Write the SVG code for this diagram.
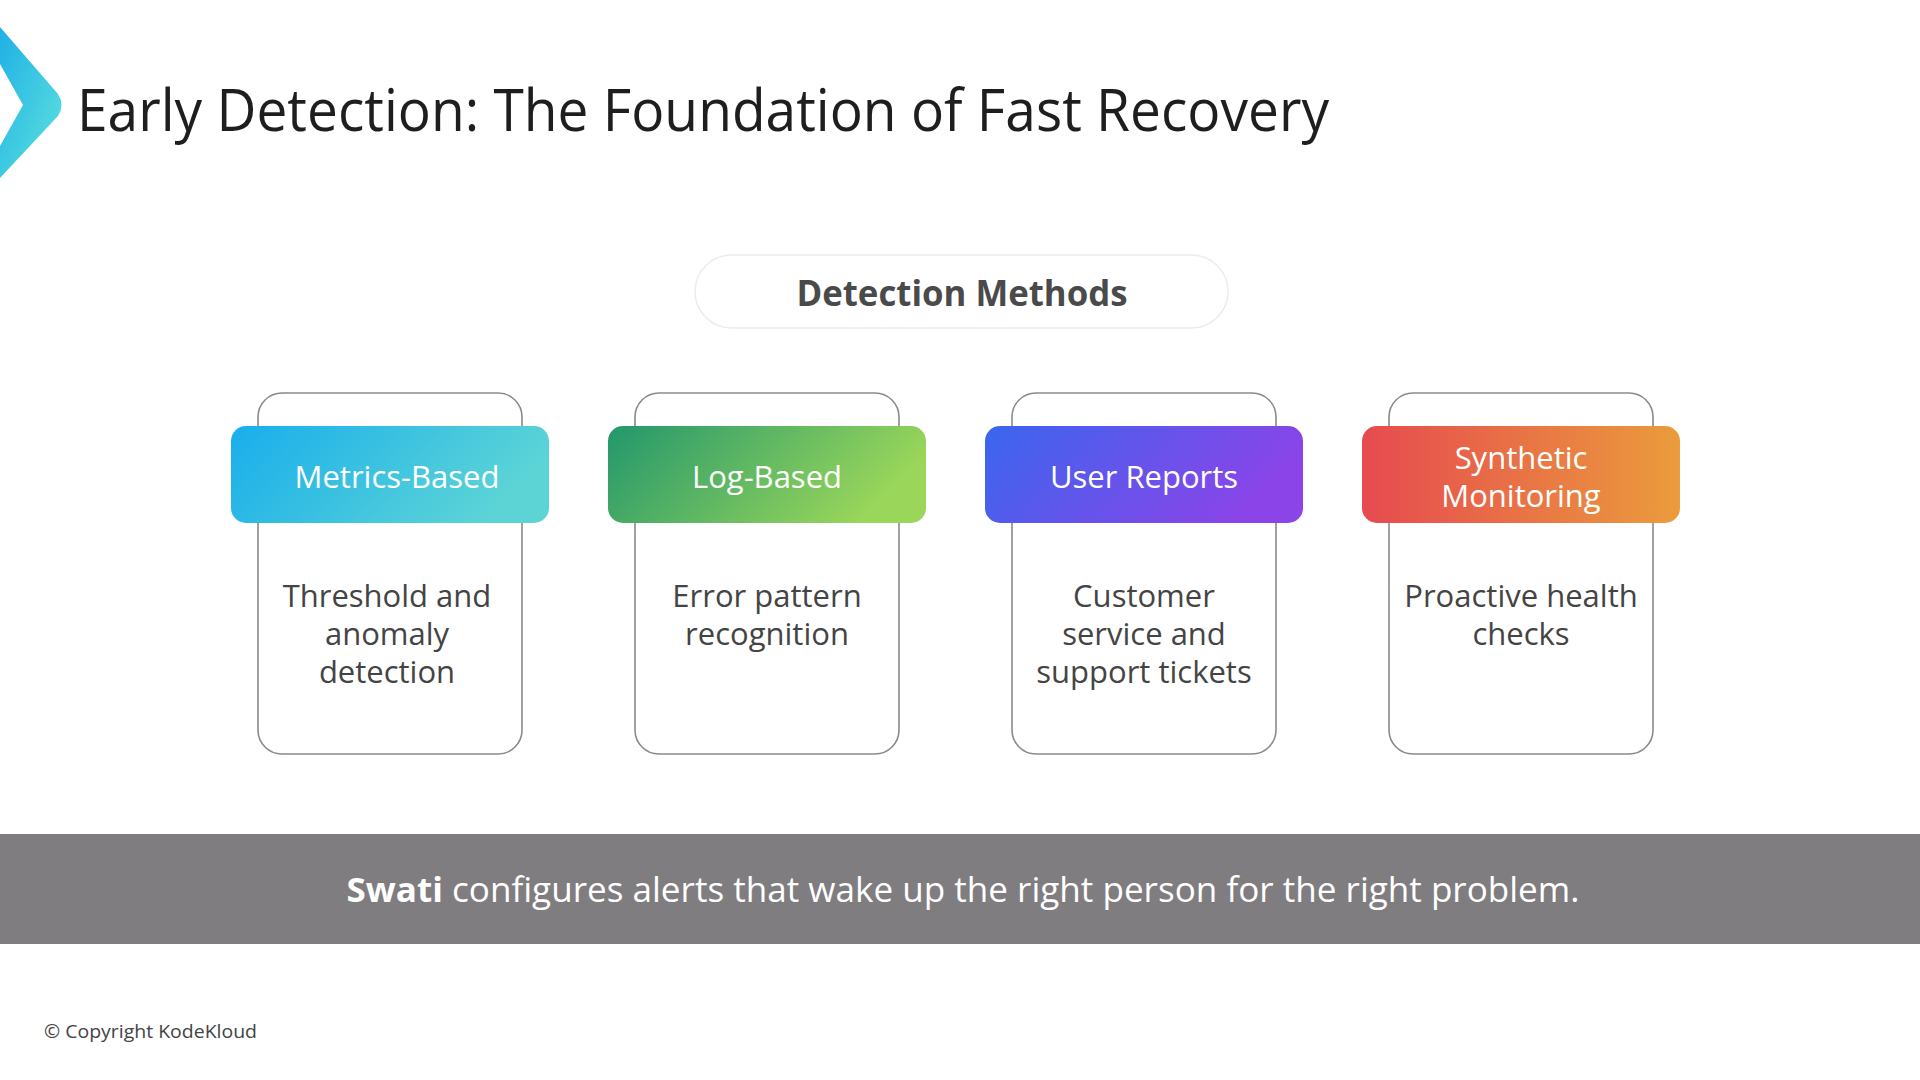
<svg xmlns="http://www.w3.org/2000/svg" width="1920" height="1080" viewBox="0 0 1920 1080">
<defs>
<linearGradient id="gChev" x1="0" y1="0" x2="1" y2="1">
<stop offset="0" stop-color="#1fb0e6"/><stop offset="1" stop-color="#5fe3dd"/>
</linearGradient>
<linearGradient id="g1" x1="0" y1="0" x2="1" y2="0.3">
<stop offset="0" stop-color="#18aeec"/><stop offset="1" stop-color="#5cd4d6"/>
</linearGradient>
<linearGradient id="g2" x1="0" y1="0" x2="1" y2="0.3">
<stop offset="0" stop-color="#22976c"/><stop offset="1" stop-color="#9ad65a"/>
</linearGradient>
<linearGradient id="g3" x1="0" y1="0" x2="1" y2="0.3">
<stop offset="0" stop-color="#3a66ee"/><stop offset="1" stop-color="#8b44e8"/>
</linearGradient>
<linearGradient id="g4" x1="0" y1="0" x2="1" y2="0">
<stop offset="0" stop-color="#e64a4f"/><stop offset="1" stop-color="#eb9c3c"/>
</linearGradient>
</defs>
<style>
.card{fill:#ffffff;stroke:#8a8a8a;stroke-width:1.6}
.head{font-family:"Open Sans","Noto Sans",sans-serif;font-size:31px;fill:#ffffff;text-anchor:middle}
.body{font-family:"Open Sans","Noto Sans",sans-serif;font-size:31px;fill:#444444;text-anchor:middle}
</style>
<rect width="1920" height="1080" fill="#ffffff"/>
<path d="M0,27 L58,94 Q65,105 58,116 L0,178 L0,146 L23,105 L0,64 Z" fill="url(#gChev)"/>
<text x="77" y="131" font-family="Open Sans, Noto Sans, sans-serif" font-size="58" fill="#1e1e1e" textLength="1252" lengthAdjust="spacingAndGlyphs">Early Detection: The Foundation of Fast Recovery</text>
<g id="detection-methods">
<rect x="695" y="255" width="533" height="73" rx="36.5" fill="#ffffff" stroke="#ececec" stroke-width="1.5"/>
<text x="962" y="306" font-family="Open Sans, Noto Sans, sans-serif" font-size="36" font-weight="bold" fill="#4a4a4a" text-anchor="middle" textLength="331" lengthAdjust="spacingAndGlyphs">Detection Methods</text>
</g>
<g id="metrics-based">
<rect class="card" x="258" y="393" width="264" height="361" rx="24"/>
<rect x="231" y="426" width="318" height="97" rx="15" fill="url(#g1)"/>
<text class="head" x="397" y="488">Metrics-Based</text>
<text class="body" x="387" y="607">Threshold and</text>
<text class="body" x="387" y="645">anomaly</text>
<text class="body" x="387" y="683">detection</text>
</g>
<g id="log-based">
<rect class="card" x="635" y="393" width="264" height="361" rx="24"/>
<rect x="608" y="426" width="318" height="97" rx="15" fill="url(#g2)"/>
<text class="head" x="767" y="488">Log-Based</text>
<text class="body" x="767" y="607">Error pattern</text>
<text class="body" x="767" y="645">recognition</text>
</g>
<g id="user-reports">
<rect class="card" x="1012" y="393" width="264" height="361" rx="24"/>
<rect x="985" y="426" width="318" height="97" rx="15" fill="url(#g3)"/>
<text class="head" x="1144" y="488">User Reports</text>
<text class="body" x="1144" y="607">Customer</text>
<text class="body" x="1144" y="645">service and</text>
<text class="body" x="1144" y="683">support tickets</text>
</g>
<g id="synthetic-monitoring">
<rect class="card" x="1389" y="393" width="264" height="361" rx="24"/>
<rect x="1362" y="426" width="318" height="97" rx="15" fill="url(#g4)"/>
<text class="head" x="1521" y="469">Synthetic</text>
<text class="head" x="1521" y="507">Monitoring</text>
<text class="body" x="1521" y="607">Proactive health</text>
<text class="body" x="1521" y="645">checks</text>
</g>
<g id="connectors"/>
<rect x="0" y="834" width="1920" height="110" fill="#7f7d80"/>
<text x="963" y="902" font-family="Open Sans, Noto Sans, sans-serif" font-size="34" fill="#ffffff" text-anchor="middle" textLength="1233" lengthAdjust="spacingAndGlyphs"><tspan font-weight="bold">Swati</tspan> configures alerts that wake up the right person for the right problem.</text>
<text x="44" y="1038" font-family="Open Sans, Noto Sans, sans-serif" font-size="18" fill="#444444" textLength="213" lengthAdjust="spacingAndGlyphs">© Copyright KodeKloud</text>
</svg>
